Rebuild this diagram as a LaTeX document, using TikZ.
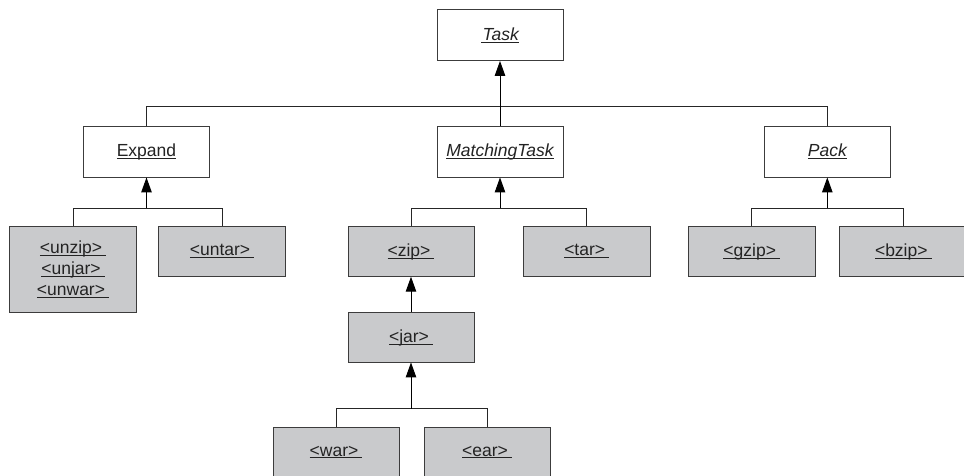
\documentclass[tikz,border=0pt]{standalone}
\usepackage{fontspec}
\setmainfont{Liberation Sans}
\usetikzlibrary{arrows.meta}
\definecolor{boxgray}{RGB}{201,202,204}
\definecolor{edgegray}{RGB}{60,60,60}
\definecolor{txt}{RGB}{35,35,35}
\newcommand{\ulx}[1]{\underline{\raisebox{0pt}[\height][0pt]{#1}}}
\newcommand{\ult}[1]{\ulx{#1\kern4bp}}
\tikzset{
  cls/.style={draw=edgegray, line width=0.9bp, fill=white, minimum width=126bp, minimum height=51bp, inner sep=0pt, text=txt, font=\fontsize{17.5bp}{21bp}\selectfont},
  tag/.style={cls, fill=boxgray},
  conn/.style={draw=black!85, line width=0.9bp},
  arr/.style={draw=black, line width=1bp, -{Triangle[length=15bp,width=10.5bp]}}
}
\begin{document}
\begin{tikzpicture}[x=1bp,y=-1bp]
\useasboundingbox (0,0) rectangle (964,476);
\clip (0,0) rectangle (964,476);
% classes
\node[cls] (task) at (500,35) {\ulx{\itshape\kern1.5bp Task}};
\node[cls] (expand) at (146.5,151.5) {\ulx{Expand}};
\node[cls] (matching) at (500,151.5) {\ulx{\itshape MatchingTask}};
\node[cls] (pack) at (827.3,151.5) {\ulx{\itshape Pack}};
% tags
\node[tag, minimum width=127bp, minimum height=86bp, align=center] (unzip) at (73,269.3) {\ult{<unzip>}\\\ult{<unjar>}\\\ult{<unwar>}};
\node[tag, minimum width=127bp, minimum height=50bp] (untar) at (222,251.3) {\ult{<untar>}};
\node[tag, minimum height=50bp] (zip) at (411,251.3) {\ult{<zip>}};
\node[tag, minimum width=127bp, minimum height=50bp] (tar) at (586.7,251.3) {\ult{<tar>}};
\node[tag, minimum width=127bp, minimum height=50bp] (gzip) at (751.7,251.3) {\ult{<gzip>}};
\node[tag, minimum width=127bp, minimum height=50bp] (bzip) at (903.3,251.3) {\ult{<bzip>}};
\node[tag, minimum height=50bp] (jar) at (411,337) {\ult{<jar>}};
\node[tag, minimum height=50bp] (war) at (336,452) {\ult{<war>}};
\node[tag, minimum height=50bp] (ear) at (487,452) {\ult{<ear>}};
% bus levels
\coordinate (b0) at (0,106.3);
\coordinate (b1) at (0,208);
\coordinate (b2) at (0,408.7);
% top level
\draw[conn] (expand.north) |- (pack.north |- b0) -- (pack.north);
\draw[arr] (matching.north) -- (task.south);
% Expand children
\draw[conn] (unzip.north) |- (untar.north |- b1) -- (untar.north);
\draw[arr] (expand.south |- b1) -- (expand.south);
% MatchingTask children
\draw[conn] (zip.north) |- (tar.north |- b1) -- (tar.north);
\draw[arr] (matching.south |- b1) -- (matching.south);
% Pack children
\draw[conn] (gzip.north) |- (bzip.north |- b1) -- (bzip.north);
\draw[arr] (pack.south |- b1) -- (pack.south);
% zip <- jar
\draw[arr] (jar.north) -- (zip.south);
% jar children
\draw[conn] (war.north) |- (ear.north |- b2) -- (ear.north);
\draw[arr] (jar.south |- b2) -- (jar.south);
\end{tikzpicture}
\end{document}
